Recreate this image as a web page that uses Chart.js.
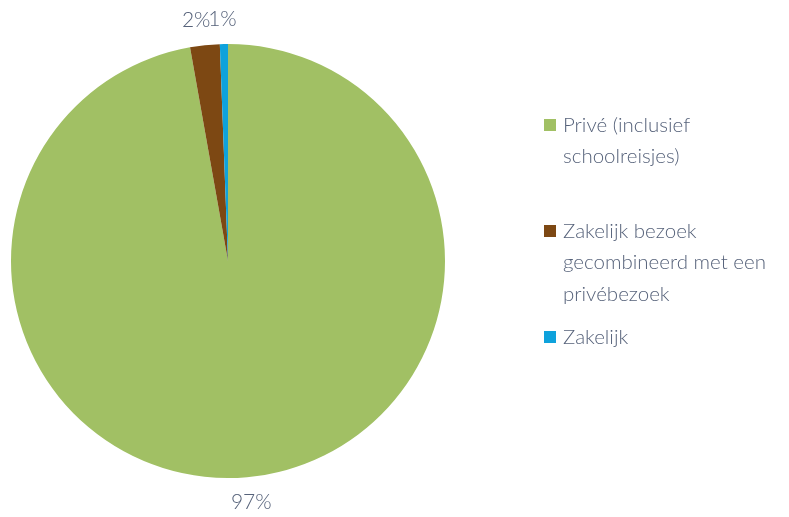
<!DOCTYPE html>
<html>
<head>
<meta charset="utf-8">
<script src="https://cdn.jsdelivr.net/npm/chart.js@4/dist/chart.umd.min.js"></script>
<style>
  html, body { margin: 0; padding: 0; background: #fff; }
  #wrap { width: 789px; height: 517px; position: relative; }
</style>
</head>
<body>
<div id="wrap"><canvas id="pieChart" width="789" height="517"></canvas></div>
<script>
const categories = [
    ['Privé (inclusief', 'schoolreisjes)'],
    ['Zakelijk bezoek', 'gecombineerd met een', 'privébezoek'],
    ['Zakelijk']
];
const shares = [97.2, 2.2, 0.6];
const pctLabels = ['97%', '2%', '1%'];
const colors = ['#a1c064', '#7d4813', '#0ea2dc'];

const textColor = '#56627a';
const fontFamily = 'Lato, "Open Sans", sans-serif';

// percentage labels outside the slices
const outsideLabels = {
    id: 'outsideLabels',
    afterDatasetsDraw(chart) {
        const ctx = chart.ctx;
        const meta = chart.getDatasetMeta(0);
        ctx.save();
        ctx.font = '300 21px ' + fontFamily;
        ctx.fillStyle = textColor;
        ctx.textAlign = 'center';
        ctx.textBaseline = 'middle';
        meta.data.forEach(function(arc, i) {
            const mid = (arc.startAngle + arc.endAngle) / 2;
            let r = arc.outerRadius + 25;
            let x = arc.x + Math.cos(mid) * r;
            let y = arc.y + Math.sin(mid) * r;
            if (i === 0) x += 2;
            if (i === 1) x -= 6;
            if (i === 2) x -= 1;
            ctx.fillText(pctLabels[i], x, y);
        });
        ctx.restore();
    }
};

// legend on the right, with wrapped lines
const sideLegend = {
    id: 'sideLegend',
    afterDraw(chart) {
        const ctx = chart.ctx;
        const tops = [125, 231, 337];
        ctx.save();
        ctx.font = '300 20.5px ' + fontFamily;
        ctx.textBaseline = 'middle';
        ctx.textAlign = 'left';
        categories.forEach(function(lines, i) {
            ctx.fillStyle = colors[i];
            ctx.fillRect(544, tops[i] - 6, 12, 12);
            ctx.fillStyle = textColor;
            lines.forEach(function(line, j) {
                ctx.fillText(line, 563, tops[i] + j * 31.5);
            });
        });
        ctx.restore();
    }
};

const ctx = document.getElementById('pieChart').getContext('2d');
new Chart(ctx, {
    type: 'pie',
    data: {
        labels: categories.map(function(c) { return c.join(' '); }),
        datasets: [{
            data: shares,
            backgroundColor: colors,
            borderWidth: 0
        }]
    },
    options: {
        responsive: false,
        animation: false,
        layout: {
            padding: { left: 11, right: 344, top: 44, bottom: 39 }
        },
        plugins: {
            legend: { display: false },
            tooltip: { enabled: false }
        }
    },
    plugins: [outsideLabels, sideLegend]
});
</script>
</body>
</html>
